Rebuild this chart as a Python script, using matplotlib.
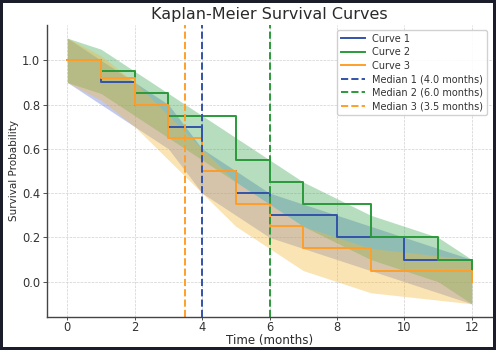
import matplotlib
matplotlib.use("Agg")
import matplotlib.pyplot as plt
import numpy as np

# Survival data (step functions)
times_1 = [0, 1, 2, 3, 4, 5, 6, 8, 10, 12]
surv_1 = [1.0, 0.9, 0.8, 0.7, 0.5, 0.4, 0.3, 0.2, 0.1, 0.0]

times_2 = [0, 1, 2, 3, 5, 6, 7, 9, 11, 12]
surv_2 = [1.0, 0.95, 0.85, 0.75, 0.55, 0.45, 0.35, 0.2, 0.1, 0.0]

times_3 = [0, 1, 2, 3, 4, 5, 6, 7, 9, 12]
surv_3 = [1.0, 0.92, 0.8, 0.65, 0.5, 0.35, 0.25, 0.15, 0.05, 0.0]

medians = [4.0, 6.0, 3.5]
ci_width = 0.1

curves = [(times_1, surv_1), (times_2, surv_2), (times_3, surv_3)]
line_colors = ["#3353a8", "#2a9a3a", "#ff9f2a"]
fill_colors = ["#5f75d8", "#3fa852", "#f5b83a"]

fig = plt.figure(figsize=(4.96, 3.5), dpi=100, facecolor="white",
                 edgecolor="#1b1e2a", linewidth=3)
ax = fig.add_axes([0.095, 0.094, 0.897, 0.835])

for i, (t, s) in enumerate(curves):
    s = np.array(s)
    ax.step(t, s, where="post", color=line_colors[i], lw=1.4, label=f"Curve {i + 1}")
    ax.fill_between(t, s - ci_width, s + ci_width, color=fill_colors[i],
                    alpha=0.38, lw=0)

for i, m in enumerate(medians):
    ax.axvline(m, color=line_colors[i], ls="--", lw=1.4,
               label=f"Median {i + 1} ({m:.1f} months)")

ax.set_title("Kaplan-Meier Survival Curves", fontsize=11.5, pad=4, color="#2a2a2a")
ax.set_xlabel("Time (months)", fontsize=8.6, labelpad=0, color="#2a2a2a")
ax.set_ylabel("Survival Probability", fontsize=7.5, labelpad=2, color="#2a2a2a")
ax.set_xticks([0, 2, 4, 6, 8, 10, 12])
ax.set_yticks([0.0, 0.2, 0.4, 0.6, 0.8, 1.0])
ax.tick_params(labelsize=8.3, length=3, width=0.6, colors="#333333", pad=2)
ax.tick_params(axis="x", pad=0.5, length=2.5)
ax.grid(True, ls="--", lw=0.5, color="#d0d0d0")
ax.set_axisbelow(True)
for side in ["top", "right"]:
    ax.spines[side].set_visible(False)
for side in ["left", "bottom"]:
    ax.spines[side].set_color("#444444")
    ax.spines[side].set_linewidth(1.0)

ax.legend(loc="upper right", fontsize=7.0, framealpha=0.9, edgecolor="#cccccc",
          borderpad=0.4, labelspacing=0.36, handlelength=2.4,
          labelcolor="#333333")

plt.savefig("out.png", dpi=100, facecolor=fig.get_facecolor(),
            edgecolor=fig.get_edgecolor())
